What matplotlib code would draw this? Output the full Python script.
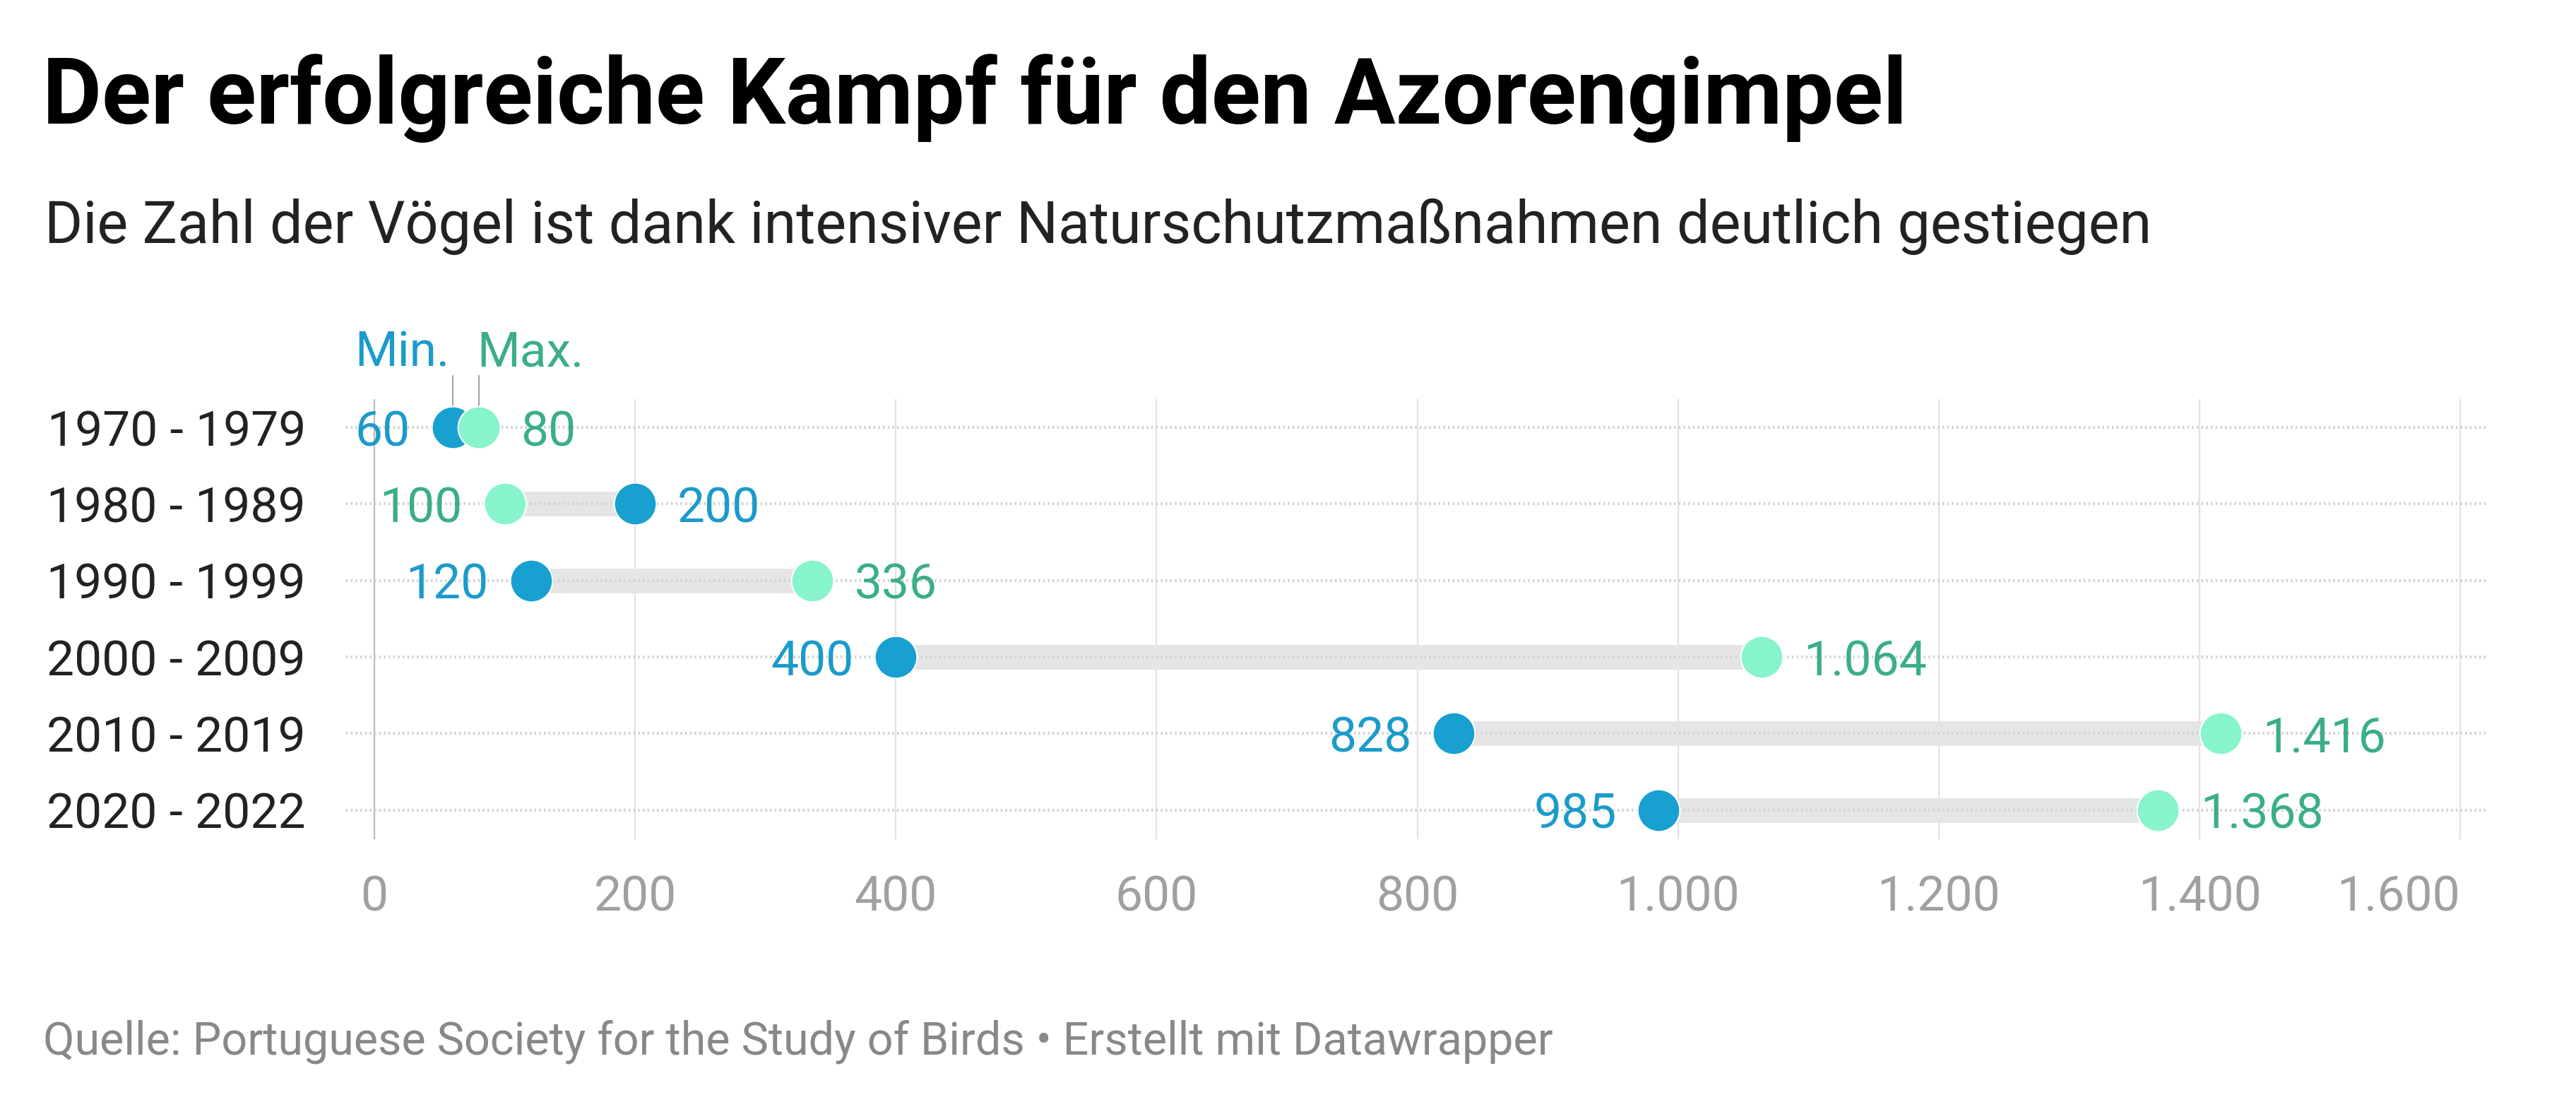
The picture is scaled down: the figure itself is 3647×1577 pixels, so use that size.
import matplotlib.pyplot as plt
import numpy as np

plt.rcParams["font.family"] = ["Roboto", "DejaVu Sans"]

periods = ["1970 - 1979", "1980 - 1989", "1990 - 1999", "2000 - 2009", "2010 - 2019", "2020 - 2022"]
min_vals = [60, 200, 120, 400, 828, 985]
max_vals = [80, 100, 336, 1064, 1416, 1368]
x_ticks = [0, 200, 400, 600, 800, 1000, 1200, 1400, 1600]

title = "Der erfolgreiche Kampf für den Azorengimpel"
subtitle = "Die Zahl der Vögel ist dank intensiver Naturschutzmaßnahmen deutlich gestiegen"
footer = "Quelle: Portuguese Society for the Study of Birds • Erstellt mit Datawrapper"

MIN_DOT = "#17a0d0"
MIN_TXT = "#1b9bca"
MAX_DOT = "#87f4cc"
MAX_TXT = "#3aae88"


def de_fmt(v):
    return f"{v:,.0f}".replace(",", ".")


W, H = 3648, 1577
fig = plt.figure(figsize=(W / 100, H / 100), dpi=100)
fig.patch.set_facecolor("white")

fig.text(60 / W, 1 - 175 / H, title, fontsize=93, fontweight="bold", color="#000000", va="baseline")
fig.text(63 / W, 1 - 344 / H, subtitle, fontsize=59.5, color="#222222", va="baseline")
fig.text(61 / W, 1 - 1492 / H, footer, fontsize=46.5, color="#888888", va="baseline")

ax = fig.add_axes([490 / W, 1 - 1188 / H, (3522 - 490) / W, (1188 - 565) / H])
ax.set_xlim(-21.7, 1621)
ax.set_ylim(5.38, -0.37)
for s in ax.spines.values():
    s.set_visible(False)

rows = np.arange(len(periods))

for t in x_ticks:
    ax.axvline(t, color="#bbbbbb" if t == 0 else "#e2e2e2", lw=1.6, zorder=0)

for r in rows:
    ax.axhline(r, color="#d2d2d2", lw=3, ls=(0, (0.6, 1.0)), zorder=2)

ax.hlines(rows, min_vals, max_vals, color="#e5e5e5", lw=25, zorder=1, capstyle="butt")
ax.scatter(min_vals, rows, s=1850, color=MIN_DOT, edgecolor="white", linewidth=1.5, zorder=4)
ax.scatter(max_vals, rows, s=1850, color=MAX_DOT, edgecolor="white", linewidth=1.5, zorder=4)

for r, a, b in zip(rows, min_vals, max_vals):
    for v, other, col in ((a, b, MIN_TXT), (b, a, MAX_TXT)):
        left = v < other
        ax.annotate(de_fmt(v), (v, r), xytext=(-43 if left else 43, 0), textcoords="offset points",
                    ha="right" if left else "left", va="center_baseline",
                    fontsize=50, color=col, zorder=5)

# Min./Max. key above the first row
y_top = -30 / 108.4
y_bot = -73 / 108.4
ax.plot([min_vals[0], min_vals[0]], [y_top, y_bot], color="#999999", lw=1.3, clip_on=False)
ax.plot([max_vals[0], max_vals[0]], [y_top, y_bot], color="#999999", lw=1.3, clip_on=False)
ax.annotate("Min.", (min_vals[0], -87 / 108.4), xytext=(-3, 0), textcoords="offset points",
            ha="right", va="baseline", fontsize=50, color=MIN_TXT, annotation_clip=False)
ax.annotate("Max.", (max_vals[0], -87 / 108.4), xytext=(-2, 0), textcoords="offset points",
            ha="left", va="baseline", fontsize=50, color=MAX_TXT, annotation_clip=False)

ax.set_yticks(rows)
ax.set_yticklabels(periods, fontsize=50, color="#222222")
ax.set_xticks(x_ticks)
ax.set_xticklabels([de_fmt(t) for t in x_ticks], fontsize=50, color="#a0a0a0")
ax.get_xticklabels()[-1].set_horizontalalignment("right")
ax.tick_params(axis="x", length=0, pad=36)
ax.tick_params(axis="y", length=0, pad=41)

fig.savefig("out.png", dpi=100, facecolor="white")
